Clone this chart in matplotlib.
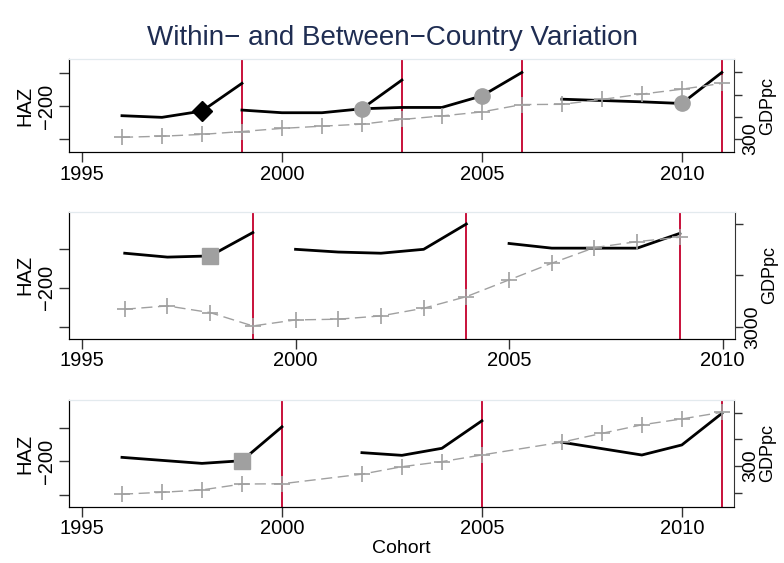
"""Within- and between-country variation of HAZ and GDPpc by cohort
"""

import matplotlib

matplotlib.use("Agg")
import matplotlib.pyplot as plt

plt.rcParams["font.family"] = ["Liberation Sans", "DejaVu Sans"]

# Panel 1
gdp_years_1 = [1996, 1997, 1998, 1999, 2000, 2001, 2002, 2003,
               2004, 2005, 2006, 2007, 2008, 2009, 2010, 2011]
gdp_1 = [308, 313, 321, 334, 348, 358, 367, 388,
         404, 422, 455, 456, 478, 502, 524, 550]
haz_years_1 = [
    [1996, 1997, 1998, 1999],
    [1999, 2000, 2001, 2002, 2003],
    [2002, 2003, 2004, 2005, 2006],
    [2007, 2008, 2009, 2010, 2011],
]
haz_1 = [
    [-229, -234, -215, -131],
    [-212, -220, -220, -208, -121],
    [-208, -204, -204, -169, -98],
    [-179, -183, -187, -192, -98],
]
surveys_1 = [1999, 2003, 2006, 2011]

# Panel 2
gdp_years_2 = [1996, 1997, 1998, 1999, 2000, 2001, 2002,
               2003, 2004, 2005, 2006, 2007, 2008, 2009]
gdp_2 = [3344, 3408, 3278, 3019, 3136, 3150, 3214,
         3363, 3588, 3913, 4237, 4540, 4656, 4742]
haz_years_2 = [
    [1996, 1997, 1998, 1999],
    [2000, 2001, 2002, 2003, 2004],
    [2005, 2006, 2007, 2008, 2009],
]
haz_2 = [
    [-111, -121, -118, -58],
    [-101, -108, -111, -101, -36],
    [-86, -98, -98, -98, -60],
]
surveys_2 = [1999, 2004, 2009]

# Panel 3
gdp_years_3 = [1996, 1997, 1998, 1999, 2000, 2002, 2003,
               2004, 2005, 2007, 2008, 2009, 2010, 2011]
gdp_3 = [194, 201, 210, 232, 233, 269, 297,
         316, 341, 389, 422, 454, 476, 501]
haz_years_3 = [
    [1996, 1998, 1999, 2000],
    [2002, 2003, 2004, 2005],
    [2007, 2009, 2010, 2011],
]
haz_3 = [
    [-189, -207, -199, -98],
    [-175, -183, -162, -80],
    [-144, -182, -152, -58],
]
surveys_3 = [2000, 2005, 2011]

# highlighted cohorts: (year, haz, marker, color)
marks_1 = [(1998, -215, "D", "black"), (2002, -208, "o", "#a0a0a0"),
           (2005, -169, "o", "#a0a0a0"), (2010, -192, "o", "#a0a0a0")]
marks_2 = [(1998, -118, "s", "#a0a0a0")]
marks_3 = [(1999, -199, "s", "#a0a0a0")]

haz_ticks = [-100, -200, -300]
haz_labels = ["", "\u2212200", ""]
gdp_ticks_1, gdp_labels_1 = [300, 400, 500, 600], ["300", "", "", ""]
gdp_ticks_2, gdp_labels_2 = [3000, 4000, 5000], ["3000", "", ""]
gdp_ticks_3, gdp_labels_3 = [200, 300, 400, 500], ["", "300", "", ""]
year_ticks = [1995, 2000, 2005, 2010]

RED = "#c8103a"
GRAY = "#a0a0a0"
FS = 14.5


def draw_panel(rect, xlim, ylim, ylim2, gdp_years, gdp, haz_years, haz,
               surveys, marks, gdp_ticks, gdp_labels):
    ax = fig.add_axes(rect)
    ax2 = ax.twinx()

    for s in surveys:
        ax.axvline(s, color=RED, lw=1.4, zorder=1)
    for yrs, vals in zip(haz_years, haz):
        ax.plot(yrs, vals, color="black", lw=2, zorder=3)
    for yr, val, m, c in marks:
        ms = 10 if m == "D" else 11
        ax.plot(yr, val, marker=m, color=c, ms=ms, mec=c, zorder=4)

    ax2.plot(gdp_years, gdp, color=GRAY, lw=1, ls=(0, (8, 4)),
             marker="+", ms=12, mew=1.2)

    ax.set_xlim(xlim)
    ax.set_ylim(ylim)
    ax2.set_ylim(ylim2)
    ax.set_xticks(year_ticks)
    ax.set_xticklabels([str(y) for y in year_ticks], fontsize=FS)
    ax.set_yticks(haz_ticks)
    ax.set_yticklabels(haz_labels, fontsize=FS, rotation=90, va="center")
    ax2.set_yticks(gdp_ticks)
    ax2.set_yticklabels(gdp_labels, fontsize=14, rotation=90, va="center")
    ax.set_ylabel("HAZ", fontsize=FS, labelpad=2)
    ax2.set_ylabel("GDPpc", fontsize=13, labelpad=0)

    for a in (ax, ax2):
        a.tick_params(length=7, width=1, color="#333333", pad=2)
        a.spines["top"].set_color("#e3eaee")
        a.spines["left"].set_color("black")
        a.spines["bottom"].set_color("black")
        a.spines["right"].set_color("#333333")
    ax2.tick_params(axis="y", length=6, pad=0)
    ax.spines["right"].set_visible(False)
    return ax


fig = plt.figure(figsize=(7.84, 5.63), dpi=100)

draw_panel([0.088, 0.730, 0.848, 0.165], (1994.675, 2011.3), (-339, -57.6),
           (242, 659), gdp_years_1, gdp_1, haz_years_1, haz_1, surveys_1,
           marks_1, gdp_ticks_1, gdp_labels_1)
draw_panel([0.088, 0.398, 0.850, 0.2256], (1994.695, 2010.3), (-331, -5),
           (2767, 5233), gdp_years_2, gdp_2, haz_years_2, haz_2, surveys_2,
           marks_2, gdp_ticks_2, gdp_labels_2)
draw_panel([0.088, 0.0995, 0.848, 0.190], (1994.675, 2011.3),
           (-337, -18), (146, 547), gdp_years_3, gdp_3, haz_years_3,
           haz_3, surveys_3, marks_3, gdp_ticks_3, gdp_labels_3)

fig.text(0.5, 0.9325, "Within\u2212 and Between\u2212Country Variation",
         ha="center", va="center", fontsize=20, color="#1f2d52")
fig.text(0.512, 0.025, "Cohort", ha="center", va="center", fontsize=14)

fig.savefig("out.png", dpi=100)
